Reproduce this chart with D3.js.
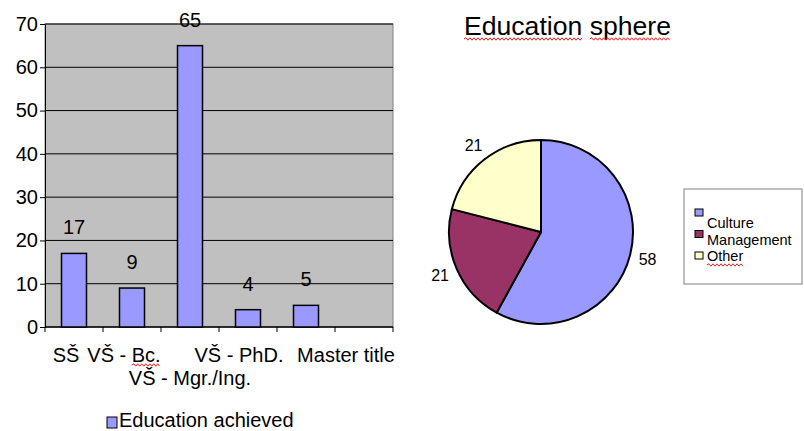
<!DOCTYPE html>
<html><head><meta charset="utf-8">
<script src="https://cdn.jsdelivr.net/npm/d3@7/dist/d3.min.js"></script>
<style>
html,body{margin:0;padding:0;background:#fff;}
text{font-family:"Liberation Sans",Arial,sans-serif;fill:#000;}
</style></head>
<body><svg id="c" width="804" height="431"></svg>
<script>
// ---- data ----
const categories = ["SŠ", "VŠ - Bc.", "VŠ - Mgr./Ing.", "VŠ - PhD.", "Master title", ""];
const values = [17, 9, 65, 4, 5, null];
const yTicks = [0, 10, 20, 30, 40, 50, 60, 70];
const barSeriesName = "Education achieved";

const pieTitle = "Education sphere";
const pieLabels = ["Culture", "Management", "Other"];
const pieValues = [58, 21, 21];
const pieColors = ["#9999ff", "#993366", "#ffffcc"];

// ---- layout ----
const svg = d3.select("#c");
const P = {l: 45, r: 393, t: 24, b: 327};
const x = d3.scaleBand().domain(categories).range([P.l, P.r]).padding(0);
const y = d3.scaleLinear().domain([0, 70]).range([P.b, P.t]);
const barW = 25;

function squiggle(x0, x1, yy) {
  let d = "M" + x0 + "," + yy;
  let up = true;
  for (let xx = x0 + 2; xx <= x1; xx += 2) { d += "L" + xx + "," + (yy + (up ? -1.2 : 1.2)); up = !up; }
  svg.append("path").attr("d", d).attr("fill", "none").attr("stroke", "#e02020").attr("stroke-width", 1);
}

// plot background
svg.append("rect").attr("x", P.l).attr("y", P.t).attr("width", P.r - P.l).attr("height", P.b - P.t)
  .attr("fill", "#c0c0c0").attr("stroke", "#808080").attr("stroke-width", 1);

// gridlines
svg.append("g").selectAll("line").data(yTicks.filter(t => t > 0)).join("line")
  .attr("x1", P.l).attr("x2", P.r).attr("y1", d => y(d)).attr("y2", d => y(d))
  .attr("stroke", "#000").attr("stroke-width", 1);

// y axis
const yAxis = d3.axisLeft(y).tickValues(yTicks).tickSize(5).tickPadding(2);
const gy = svg.append("g").attr("transform", `translate(${P.l},0)`).call(yAxis);
gy.select(".domain").attr("stroke", "#000");
gy.selectAll("text").style("font-size", "20px").attr("font-family", null);

// x axis (ticks at band edges)
svg.append("line").attr("x1", P.l).attr("x2", P.r).attr("y1", P.b).attr("y2", P.b).attr("stroke", "#000").attr("stroke-width", 1.5);
svg.append("g").selectAll("line").data(categories).join("line")
  .attr("x1", d => x(d) + x.bandwidth()).attr("x2", d => x(d) + x.bandwidth())
  .attr("y1", P.b).attr("y2", P.b + 5).attr("stroke", "#000");
svg.append("line").attr("x1", P.l).attr("x2", P.l).attr("y1", P.b).attr("y2", P.b + 5).attr("stroke", "#000");

// bars
const bars = categories.map((c, i) => ({c, v: values[i]})).filter(d => d.v != null);
svg.append("g").selectAll("rect").data(bars).join("rect")
  .attr("x", d => x(d.c) + (x.bandwidth() - barW) / 2)
  .attr("y", d => y(d.v)).attr("width", barW).attr("height", d => y(0) - y(d.v))
  .attr("fill", "#9999ff").attr("stroke", "#000").attr("stroke-width", 1.5);

// value labels
svg.append("g").selectAll("text").data(bars).join("text")
  .attr("x", d => x(d.c) + x.bandwidth() / 2).attr("y", d => y(d.v) - 19)
  .attr("text-anchor", "middle").style("font-size", "20px").text(d => d.v);

// category labels (Excel-like staggering)
const labRow = [0, 0, 1, 0, 0, 0];
const labDx = [-8, -8, 0, -9, 40, 0];
const catText = svg.append("g").selectAll("text").data(categories).join("text")
  .attr("x", (d, i) => x(d) + x.bandwidth() / 2 + labDx[i])
  .attr("y", (d, i) => 362 + labRow[i] * 23)
  .attr("text-anchor", "middle").style("font-size", "20px").text(d => d);

// squiggle under "Bc."
catText.filter(d => d === "VŠ - Bc.").each(function(d) {
  const bb = this.getBBox();
  const s = d.indexOf("Bc.");
  const off = this.getSubStringLength(0, s);
  const w = this.getSubStringLength(s, 3);
  squiggle(bb.x + off, bb.x + off + w, 365);
});

// bar legend
svg.append("rect").attr("x", 107).attr("y", 417).attr("width", 10).attr("height", 11)
  .attr("fill", "#9999ff").attr("stroke", "#000").attr("stroke-width", 1);
svg.append("text").attr("x", 119).attr("y", 427).style("font-size", "20px").text(barSeriesName);

// ---- pie ----
const cx = 541, cy = 232, R = 92;
const titleT = svg.append("text").attr("x", 464).attr("y", 35).style("font-size", "25px")
  .attr("textLength", 207).attr("lengthAdjust", "spacingAndGlyphs").text(pieTitle);
{
  const node = titleT.node();
  const bb = node.getBBox();
  const sp = pieTitle.indexOf(" ");
  const w1 = node.getSubStringLength(0, sp);
  const wsp = node.getSubStringLength(sp, 1);
  squiggle(bb.x, bb.x + w1, 39);
  squiggle(bb.x + w1 + wsp, bb.x + bb.width, 39);
}

const pie = d3.pie().sort(null).value(d => d)(pieValues);
const arc = d3.arc().innerRadius(0).outerRadius(R);
const gp = svg.append("g").attr("transform", `translate(${cx},${cy})`);
gp.selectAll("path").data(pie).join("path")
  .attr("d", arc).attr("fill", (d, i) => pieColors[i])
  .attr("stroke", "#000").attr("stroke-width", 2).attr("stroke-linejoin", "round");
const lblArc = d3.arc().innerRadius(110).outerRadius(110);
gp.selectAll("text").data(pie).join("text")
  .attr("transform", d => `translate(${lblArc.centroid(d)})`)
  .attr("text-anchor", "middle").attr("dy", "0.35em").style("font-size", "16px")
  .text(d => d.value);

// pie legend
svg.append("rect").attr("x", 684).attr("y", 189).attr("width", 118).attr("height", 95)
  .attr("fill", "#fff").attr("stroke", "#808080").attr("stroke-width", 1);
const lg = svg.append("g");
lg.selectAll("rect").data(pieLabels).join("rect")
  .attr("x", 695).attr("y", (d, i) => 209 + i * 21.5).attr("width", 8).attr("height", 7)
  .attr("fill", (d, i) => pieColors[i]).attr("stroke", "#000").attr("stroke-width", 1);
const lgText = lg.selectAll("text").data(pieLabels).join("text")
  .attr("x", 707).attr("y", (d, i) => 228 + i * 16.5).style("font-size", "14.5px").text(d => d);
lgText.filter(d => d === "Other").each(function() {
  const bb = this.getBBox();
  squiggle(bb.x, bb.x + bb.width, 265);
});
</script></body></html>
